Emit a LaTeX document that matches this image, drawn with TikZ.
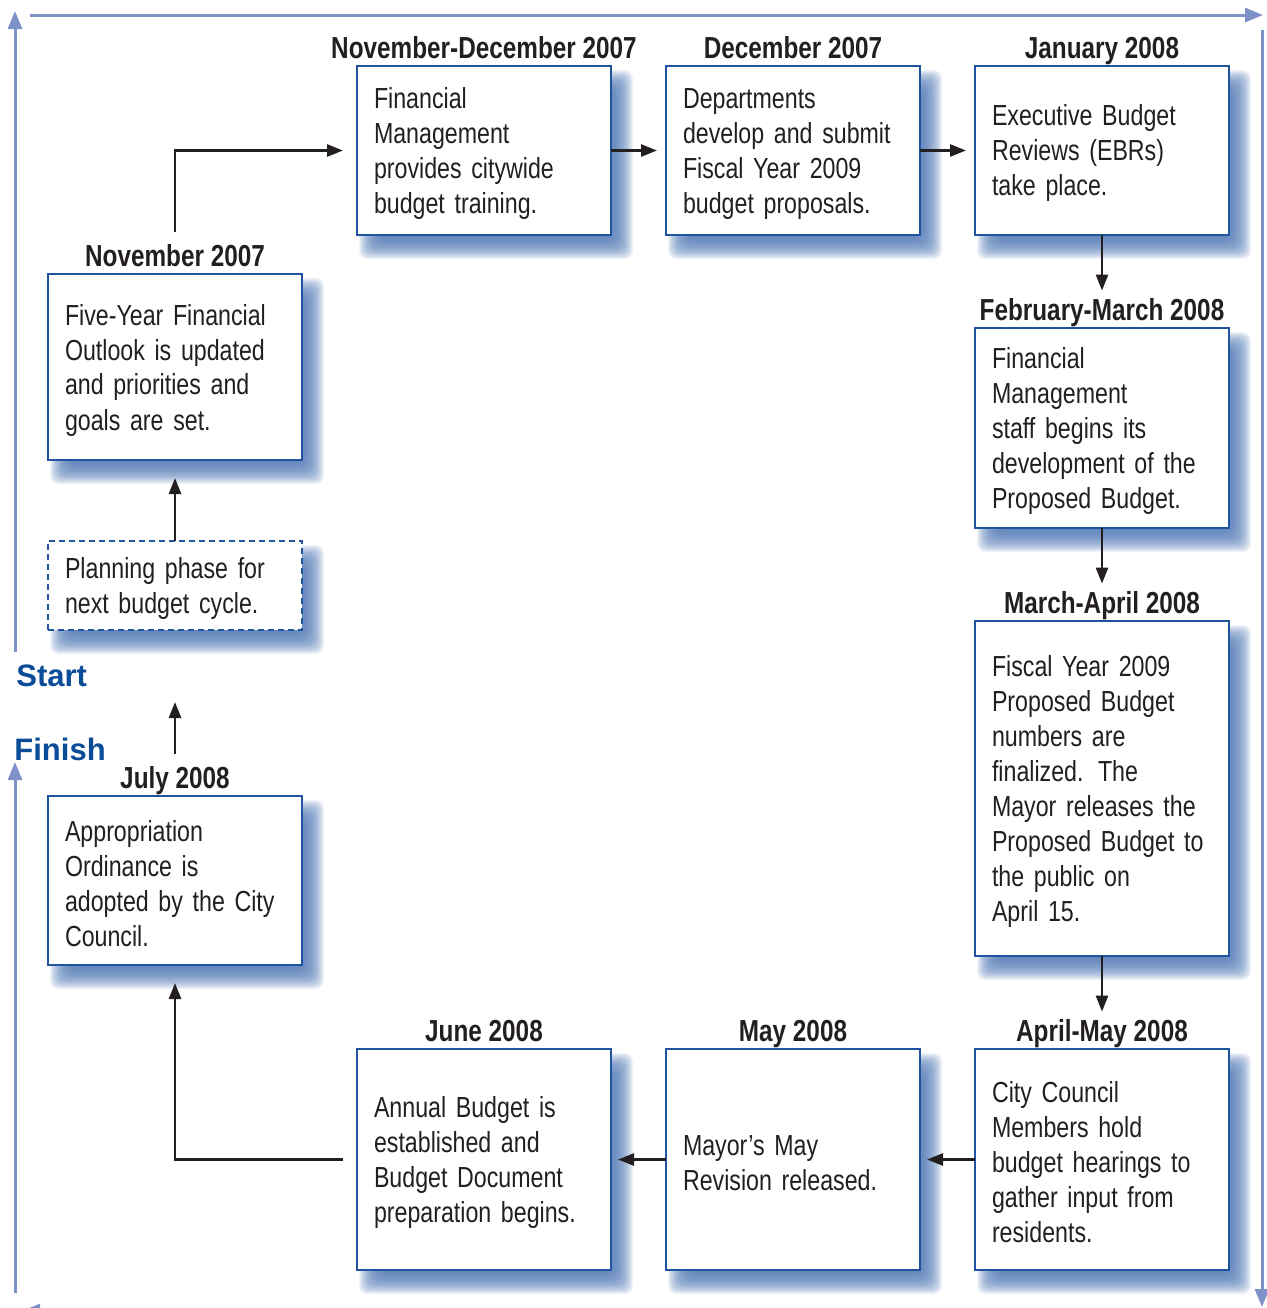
\documentclass[tikz,border=0pt]{standalone}
\usepackage{fontspec}
\setmainfont[FakeStretch=0.8]{Liberation Sans}
\newfontfamily\markfont{Liberation Sans}
\usetikzlibrary{positioning,arrows.meta,backgrounds}

\definecolor{boxblue}{RGB}{32,84,160}
\definecolor{shadeblue}{RGB}{80,120,180}
\definecolor{rimblue}{RGB}{126,145,201}
\definecolor{inkgray}{RGB}{35,31,32}
\definecolor{markblue}{RGB}{10,76,151}

% soft blue shadow below and right of a box
\newcommand{\boxshade}[1]{%
  \foreach \r in {-6,-5.5,...,5}{%
    \fill[shadeblue,fill opacity=0.085,rounded corners=4pt]
      ([xshift={6pt-(\r)*1pt},yshift={-7pt-(\r)*1pt}]#1.south west) rectangle
      ([xshift={6pt+(\r)*1pt},yshift={-7pt+(\r)*1pt}]#1.north east);
  }%
}

\begin{document}
\begin{tikzpicture}[x=0.5pt,y=-0.5pt,>={Triangle[length=8pt,width=6pt]},node distance=46.5pt and 27.5pt,
    stepbox/.style={draw=boxblue,line width=0.8pt,fill=white,text=inkgray,text width=110pt,inner xsep=8.5pt,outer sep=0pt,minimum width=127pt,align=left,
        font=\fontsize{14.5}{17.5}\selectfont,execute at begin node={\rule{0pt}{13.5pt}}},
    datelabel/.style={inner sep=0pt,anchor=base,text=inkgray,font=\bfseries\fontsize{15.2}{18}\selectfont},
    marklabel/.style={inner sep=0pt,anchor=base west,text=markblue,font=\markfont\bfseries\fontsize{15.5}{18}\selectfont},
    flow/.style={->,line width=1.3pt,draw=inkgray},
    rim/.style={-{Triangle[length=9pt,width=7pt]},line width=1.5pt,draw=rimblue}]
    \useasboundingbox (0,0) rectangle (1266,1308);

    % frame round the cycle
    \draw[rim] (15,652) -- (15,11);
    \draw[rim] (30,15) -- (1263,15);
    \draw[rim] (1262,30) -- (1262,1307);
    \draw[rim] (1262,1311) -- (22,1311);
    \draw[rim] (15,1293) -- (15,762);

    \node[marklabel] (start) at (16,686) {Start};
    \node[marklabel] (finish) at (14,760) {Finish};

    % steps
    \node[stepbox,minimum height=84.5pt] (train) at (484,150.5) {Financial\\Management\\provides citywide\\budget training.};
    \node[stepbox,minimum height=84.5pt,right=of train] (submit) {Departments\\develop and submit\\Fiscal Year 2009\\budget proposals.};
    \node[stepbox,minimum height=84.5pt,right=of submit] (ebr) {Executive Budget\\Reviews (EBRs)\\take place.};
    \node[stepbox,minimum height=100pt,below=of ebr] (staff) {Financial\\Management\\staff begins its\\development of the\\Proposed Budget.};
    \node[stepbox,minimum height=167.5pt,below=of staff] (proposed) {Fiscal Year 2009\\Proposed Budget\\numbers are\\finalized. The\\Mayor releases the\\Proposed Budget to\\the public on\\April 15.};
    \node[stepbox,minimum height=110.5pt,below=of proposed] (hearing) {City Council\\Members hold\\budget hearings to\\gather input from\\residents.};
    \node[stepbox,minimum height=110.5pt,left=of hearing] (revise) {Mayor’s May\\Revision released.};
    \node[stepbox,minimum height=110.5pt,left=of revise] (annual) {Annual Budget is\\established and\\Budget Document\\preparation begins.};
    \node[stepbox,minimum height=84.5pt] (ordinance) at (175,880.5) {Appropriation\\Ordinance is\\adopted by the City\\Council.};
    \node[stepbox,dashed,dash pattern=on 3pt off 2pt,minimum height=44.5pt] (plan) at (175,585.5) {Planning phase for\\next budget cycle.};
    \node[stepbox,minimum height=93pt] (outlook) at (175,367) {Five-Year Financial\\Outlook is updated\\and priorities and\\goals are set.};

    \begin{scope}[on background layer]
        \boxshade{train} \boxshade{submit} \boxshade{ebr} \boxshade{staff}
        \boxshade{proposed} \boxshade{hearing} \boxshade{revise} \boxshade{annual}
        \boxshade{ordinance} \boxshade{plan} \boxshade{outlook}
    \end{scope}

    % dates
    \node[datelabel] (h-train) at ([yshift=4pt]train.north) {November-December 2007};
    \node[datelabel] (h-submit) at ([yshift=4pt]submit.north) {December 2007};
    \node[datelabel] (h-ebr) at ([yshift=4pt]ebr.north) {January 2008};
    \node[datelabel] (h-staff) at ([yshift=4pt]staff.north) {February-March 2008};
    \node[datelabel] (h-proposed) at ([yshift=4pt]proposed.north) {March-April 2008};
    \node[datelabel] (h-hearing) at ([yshift=4pt]hearing.north) {April-May 2008};
    \node[datelabel] (h-revise) at ([yshift=4pt]revise.north) {May 2008};
    \node[datelabel] (h-annual) at ([yshift=4pt]annual.north) {June 2008};
    \node[datelabel] (h-ordinance) at ([yshift=4pt]ordinance.north) {July 2008};
    \node[datelabel] (h-outlook) at ([yshift=4pt]outlook.north) {November 2007};

    \coordinate (restart) at (175,702);

    \draw[flow,shorten >=7pt] ([yshift=6pt]h-outlook.north) |- (train.west);
    \draw[flow,shorten >=4.5pt] (train) -- (submit);
    \draw[flow,shorten >=4.5pt] (submit) -- (ebr);
    \draw[flow,shorten >=3.5pt] (ebr.south) -- (h-staff.north);
    \draw[flow,shorten >=3.5pt] (staff.south) -- (h-proposed.north);
    \draw[flow,shorten >=3.5pt] (proposed.south) -- (h-hearing.north);
    \draw[flow,shorten >=3.5pt] (hearing) -- (revise);
    \draw[flow,shorten >=3.5pt] (revise) -- (annual);
    \draw[flow,shorten <=7pt,shorten >=9pt] (annual.west) -| (ordinance.south);
    \draw[flow] ([yshift=6pt]h-ordinance.north) -- (restart);
    \draw[flow,shorten >=9pt] (plan) -- (outlook);
\end{tikzpicture}
\end{document}
